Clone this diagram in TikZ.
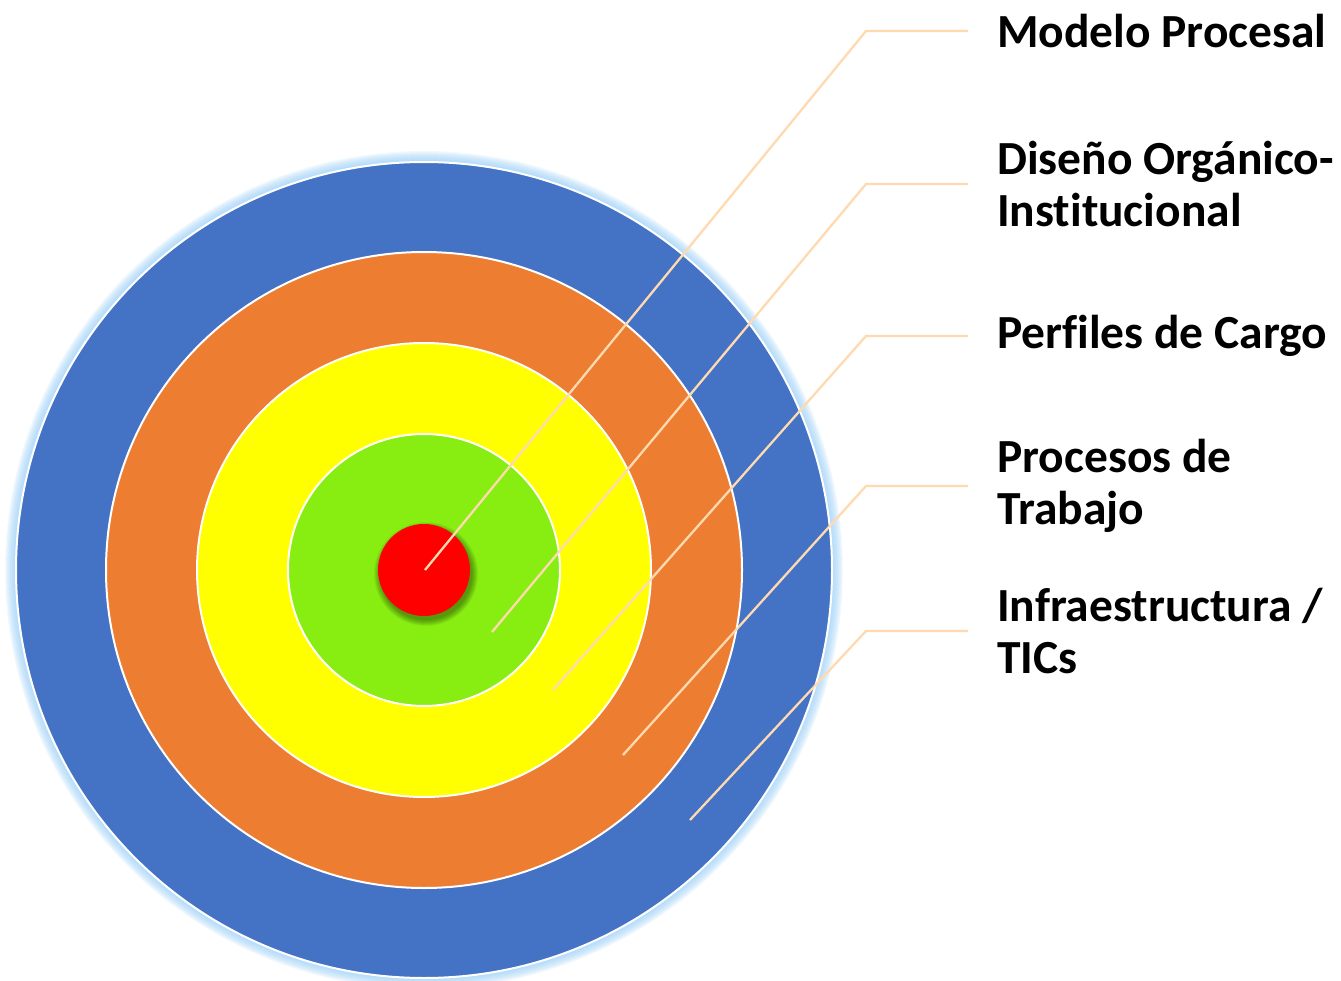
\documentclass[tikz,border=0pt]{standalone}
\usepackage{fontspec}
\setmainfont[Ligatures=NoCommon]{Carlito}
\usetikzlibrary{calc}
\definecolor{cblue}{HTML}{4472C4}
\definecolor{corange}{HTML}{ED7D31}
\definecolor{cyellow}{HTML}{FFFF00}
\definecolor{cgreen}{HTML}{88EE12}
\definecolor{cred}{HTML}{FF0000}
\definecolor{cglow}{HTML}{9DD0F7}
\definecolor{cline}{HTML}{FFDAB0}
\begin{document}
\begin{tikzpicture}[x=1pt,y=-1pt,
  ring/.style={draw=white,line width=2pt},
  leader/.style={draw=cline,line width=2.3pt},
  lbl/.style={anchor=west,inner sep=0pt,align=left,font=\bfseries\fontsize{47.5}{51.5}\selectfont}]
\useasboundingbox (0,0) rectangle (1341,981);
\coordinate (c) at (424,570);
% outer glow
\foreach \i in {0,...,10}{
  \fill[cglow,opacity=0.12] (c) circle ({419-\i});
}
\fill[cblue] (c) circle (408);
\draw[ring] (c) circle (408);
\fill[corange] (c) circle (318);
\draw[ring] (c) circle (318);
\fill[cyellow] (c) circle (227);
\draw[ring] (c) circle (227);
\fill[cgreen] (c) circle (136);
\draw[ring] (c) circle (136);
% shadow of red
\foreach \i in {0,...,6}{
  \fill[black,opacity=0.06] ($(c)+(2,4)$) circle ({52-\i});
}
\fill[cred] (c) circle (46);
% leader points
\coordinate (p1) at (425,570);
\coordinate (p2) at (492,632);
\coordinate (p3) at (553,690);
\coordinate (p4) at (623,755);
\coordinate (p5) at (690,820);
\coordinate (k1) at (866,31);
\coordinate (k2) at (866,184);
\coordinate (k3) at (866,336);
\coordinate (k4) at (866,486);
\coordinate (k5) at (866,631);
\coordinate (e1) at (968,31);
\coordinate (e2) at (968,184);
\coordinate (e3) at (968,336);
\coordinate (e4) at (968,486);
\coordinate (e5) at (968,631);
\draw[leader] (p1) -- (k1) -- (e1);
\draw[leader] (p2) -- (k2) -- (e2);
\draw[leader] (p3) -- (k3) -- (e3);
\draw[leader] (p4) -- (k4) -- (e4);
\draw[leader] (p5) -- (k5) -- (e5);
\node[lbl] (t1) at (997,31) {Modelo Procesal};
\node[lbl] (t2) at (997,184) {Diseño Orgánico-\\Institucional};
\node[lbl] (t3) at (997,336) {Perfiles de Cargo};
\node[lbl] (t4) at (997,486) {Procesos de\\Trabajo};
\node[lbl] (t5) at (997,631) {Infraestructura /\\TICs};
\end{tikzpicture}
\end{document}
